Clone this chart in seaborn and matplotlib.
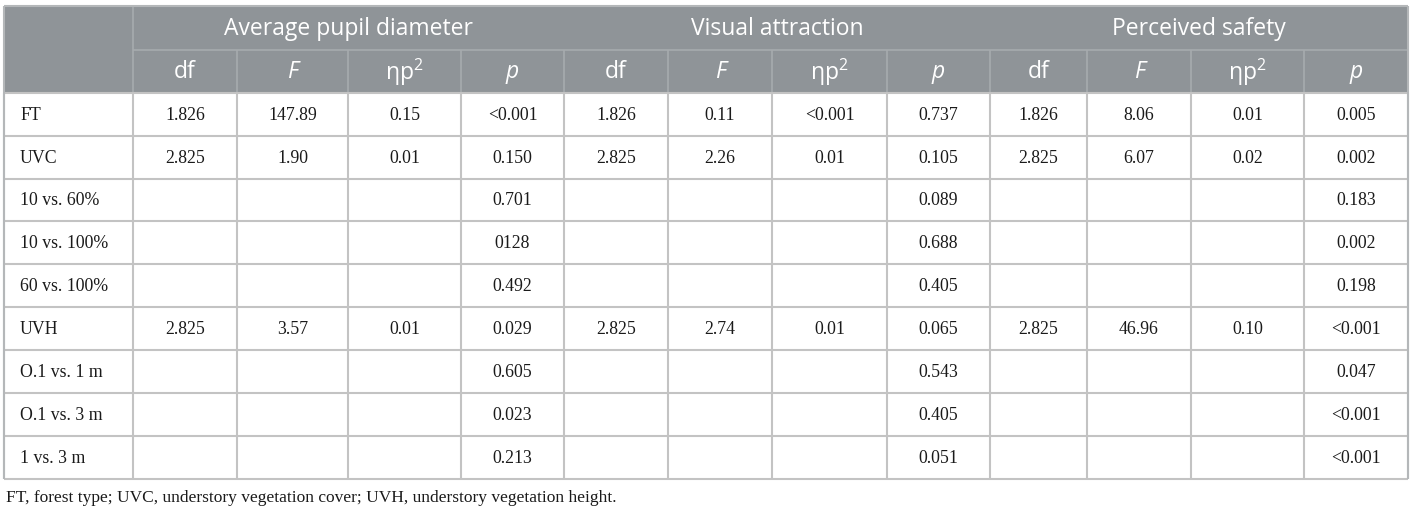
import numpy as np
import pandas as pd
import matplotlib
matplotlib.use("Agg")
import matplotlib.pyplot as plt
import seaborn as sns

# datos de la tabla
rows = ["FT", "UVC", "10 vs. 60%", "10 vs. 100%", "60 vs. 100%",
        "UVH", "O.1 vs. 1 m", "O.1 vs. 3 m", "1 vs. 3 m"]
groups = ["Average pupil diameter", "Visual attraction", "Perceived safety"]
stats = ["df", "F", "ηp$^{2}$", "p"]

pupil_df = ["1.826", "2.825", "", "", "", "2.825", "", "", ""]
pupil_F = ["147.89", "1.90", "", "", "", "3.57", "", "", ""]
pupil_eta = ["0.15", "0.01", "", "", "", "0.01", "", "", ""]
pupil_p = ["<0.001", "0.150", "0.701", "0128", "0.492", "0.029", "0.605", "0.023", "0.213"]

visual_df = ["1.826", "2.825", "", "", "", "2.825", "", "", ""]
visual_F = ["0.11", "2.26", "", "", "", "2.74", "", "", ""]
visual_eta = ["<0.001", "0.01", "", "", "", "0.01", "", "", ""]
visual_p = ["0.737", "0.105", "0.089", "0.688", "0.405", "0.065", "0.543", "0.405", "0.051"]

safety_df = ["1.826", "2.825", "", "", "", "2.825", "", "", ""]
safety_F = ["8.06", "6.07", "", "", "", "46.96", "", "", ""]
safety_eta = ["0.01", "0.02", "", "", "", "0.10", "", "", ""]
safety_p = ["0.005", "0.002", "0.183", "0.002", "0.198", "<0.001", "0.047", "<0.001", "<0.001"]

footnote = "FT, forest type; UVC, understory vegetation cover; UVH, understory vegetation height."

table = pd.DataFrame({
    "pupil_df": pupil_df, "pupil_F": pupil_F, "pupil_eta": pupil_eta, "pupil_p": pupil_p,
    "visual_df": visual_df, "visual_F": visual_F, "visual_eta": visual_eta, "visual_p": visual_p,
    "safety_df": safety_df, "safety_F": safety_F, "safety_eta": safety_eta, "safety_p": safety_p,
}, index=rows)

sns.set_theme(style="white")
plt.rcParams["font.family"] = ["Liberation Serif", "DejaVu Serif"]
plt.rcParams["mathtext.fontset"] = "custom"
plt.rcParams["mathtext.rm"] = "Open Sans"
plt.rcParams["mathtext.it"] = "Open Sans:italic"

# geometria (pixeles)
col_edges = [4, 133, 237, 348, 461, 564, 668, 772, 887, 990, 1087, 1191, 1304, 1408]
top, h1, h2 = 6, 50, 92.7
row_h = 42.9
bottom = h2 + row_h * len(rows)

head_bg = "#8f9498"
head_line = "#a7abae"
grid = "#c3c3c3"
head_font = ["Open Sans", "DejaVu Sans"]
head_size = 16.5
body_size = 12.8

fig = plt.figure(figsize=(14.14, 5.12), dpi=100)
ax = fig.add_axes([0, 0, 1, 1])
ax.set_xlim(0, 1414)
ax.set_ylim(512, 0)
ax.axis("off")

# fondo cabecera
ax.fill_between([col_edges[0], col_edges[-1]], top, h2, color=head_bg, lw=0)
ax.hlines(h1, col_edges[1], col_edges[-1], color=head_line, lw=1.2)
ax.vlines(col_edges[1], top, h2, color=head_line, lw=1.2)
ax.vlines(col_edges[2:-1], h1, h2, color=head_line, lw=1.2)

# lineas del cuerpo
ys = h2 + row_h * np.arange(len(rows) + 1)
ax.hlines(ys, col_edges[0], col_edges[-1], color=grid, lw=1.5)
ax.vlines(col_edges, h2, bottom, color=grid, lw=1.5)
# borde exterior
ax.vlines([col_edges[0], col_edges[-1]], top, bottom, color="#b4b7b9", lw=1.5)
ax.hlines(top, col_edges[0], col_edges[-1], color="#b4b7b9", lw=1.5)

# textos cabecera
for g, name in enumerate(groups):
    x0 = col_edges[1 + 4 * g]
    x1 = col_edges[5 + 4 * g]
    ax.text((x0 + x1) / 2, (top + h1) / 2 + 1, name, ha="center", va="center",
            color="white", fontsize=head_size, family=head_font)
    for k, s in enumerate(stats):
        xc = (col_edges[1 + 4 * g + k] + col_edges[2 + 4 * g + k]) / 2
        style = "italic" if s in ("F", "p") else "normal"
        ax.text(xc, (h1 + h2) / 2 + 1, s, ha="center", va="center", color="white",
                fontsize=head_size, family=head_font, style=style)

# cuerpo
for i, r in enumerate(rows):
    yc = h2 + row_h * (i + 0.5)
    ax.text(20, yc + 1, r, ha="left", va="center", fontsize=body_size, color="#1a1a1a")
    for j, col in enumerate(table.columns):
        val = table.loc[r, col]
        if val:
            xc = (col_edges[j + 1] + col_edges[j + 2]) / 2
            ax.text(xc, yc + 1, val, ha="center", va="center", fontsize=body_size,
                    color="#1a1a1a")

ax.text(6, 498, footnote, ha="left", va="center", fontsize=12.5, color="#1a1a1a")

fig.savefig("out.png", dpi=100)
